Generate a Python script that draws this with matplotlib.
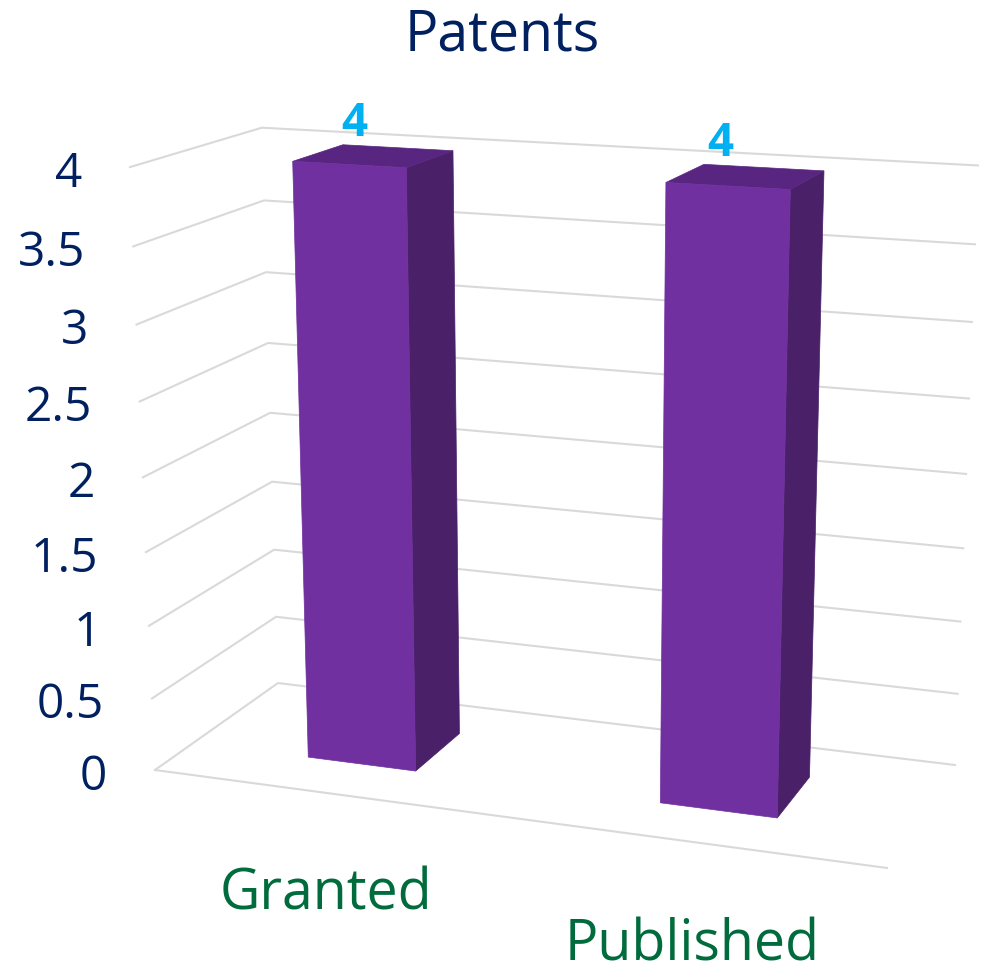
import numpy as np
import matplotlib
matplotlib.use('Agg')
import matplotlib.pyplot as plt
from matplotlib.patches import Polygon

categories = ['Granted', 'Published']
values = [4, 4]
yticks = [0, 0.5, 1, 1.5, 2, 2.5, 3, 3.5, 4]
ytick_labels = ['0', '0.5', '1', '1.5', '2', '2.5', '3', '3.5', '4']

# camera for the fake 3D look: (x, depth, z) -> pixels
CAM = np.array([[657.5 / 2, 147.9, -8.1, 155.0],
                [25.1 / 2, -25.7, -153.1, 770.0],
                [-0.08395 / 2, 0.0897, -0.0142, 1.0]])

BAR_HALF_W = 0.157
DEPTH = (0.30, 0.71)


def project(x, d, z):
    p = CAM @ np.array([x, d, z, 1.0])
    return p[0] / p[2], p[1] / p[2]


def draw_bar(ax, xc, val):
    x0, x1 = xc - BAR_HALF_W, xc + BAR_HALF_W
    d0, d1 = DEPTH
    front = [project(x0, d0, 0), project(x1, d0, 0), project(x1, d0, val), project(x0, d0, val)]
    side = [project(x1, d0, 0), project(x1, d1, 0), project(x1, d1, val), project(x1, d0, val)]
    top = [project(x0, d0, val), project(x1, d0, val), project(x1, d1, val), project(x0, d1, val)]
    ax.add_patch(Polygon(side, closed=True, fc='#4A2068', ec='#4A2068', lw=0.5, zorder=3))
    ax.add_patch(Polygon(top, closed=True, fc='#582680', ec='#582680', lw=0.5, zorder=3))
    ax.add_patch(Polygon(front, closed=True, fc='#7030A0', ec='#7030A0', lw=0.5, zorder=4))


plt.rcParams['font.family'] = ['Open Sans', 'DejaVu Sans']
fig = plt.figure(figsize=(9.87, 9.80), dpi=100)
ax = fig.add_axes([0, 0, 1, 1])
ax.set_xlim(0, 987)
ax.set_ylim(980, 0)
ax.axis('off')

grid = '#D9D9D9'
for z in yticks:
    xs, ys = zip(project(0, 0, z), project(0, 1, z), project(2, 1, z))
    ax.plot(xs, ys, color=grid, lw=1.5, zorder=1)
xs, ys = zip(project(0, 0, 0), project(2, 0, 0))
ax.plot(xs, ys, color=grid, lw=1.5, zorder=1)

for i, (name, val) in enumerate(zip(categories, values)):
    xc = i + 0.5
    draw_bar(ax, xc, val)
    tx, ty = project(xc, 0.5, val)
    ax.text(tx - 19 - i * 6, ty - 33, str(val), color='#00B0F0', fontsize=33, fontweight='bold',
            ha='center', va='center')
    lx, ly = project(xc, 0, 0)
    ax.text(lx, ly + 102 + i * 2, name, color='#006B3C', fontsize=40, ha='center', va='center')

for z, lab in zip(yticks, ytick_labels):
    px, py = project(0, 0, z)
    ax.text(px - 48, py + 7, lab, color='#002060', fontsize=34.5, ha='right', va='center')

ax.text(502, 36, 'Patents', color='#002060', fontsize=40, ha='center', va='center')

fig.savefig('out.png', dpi=100)
